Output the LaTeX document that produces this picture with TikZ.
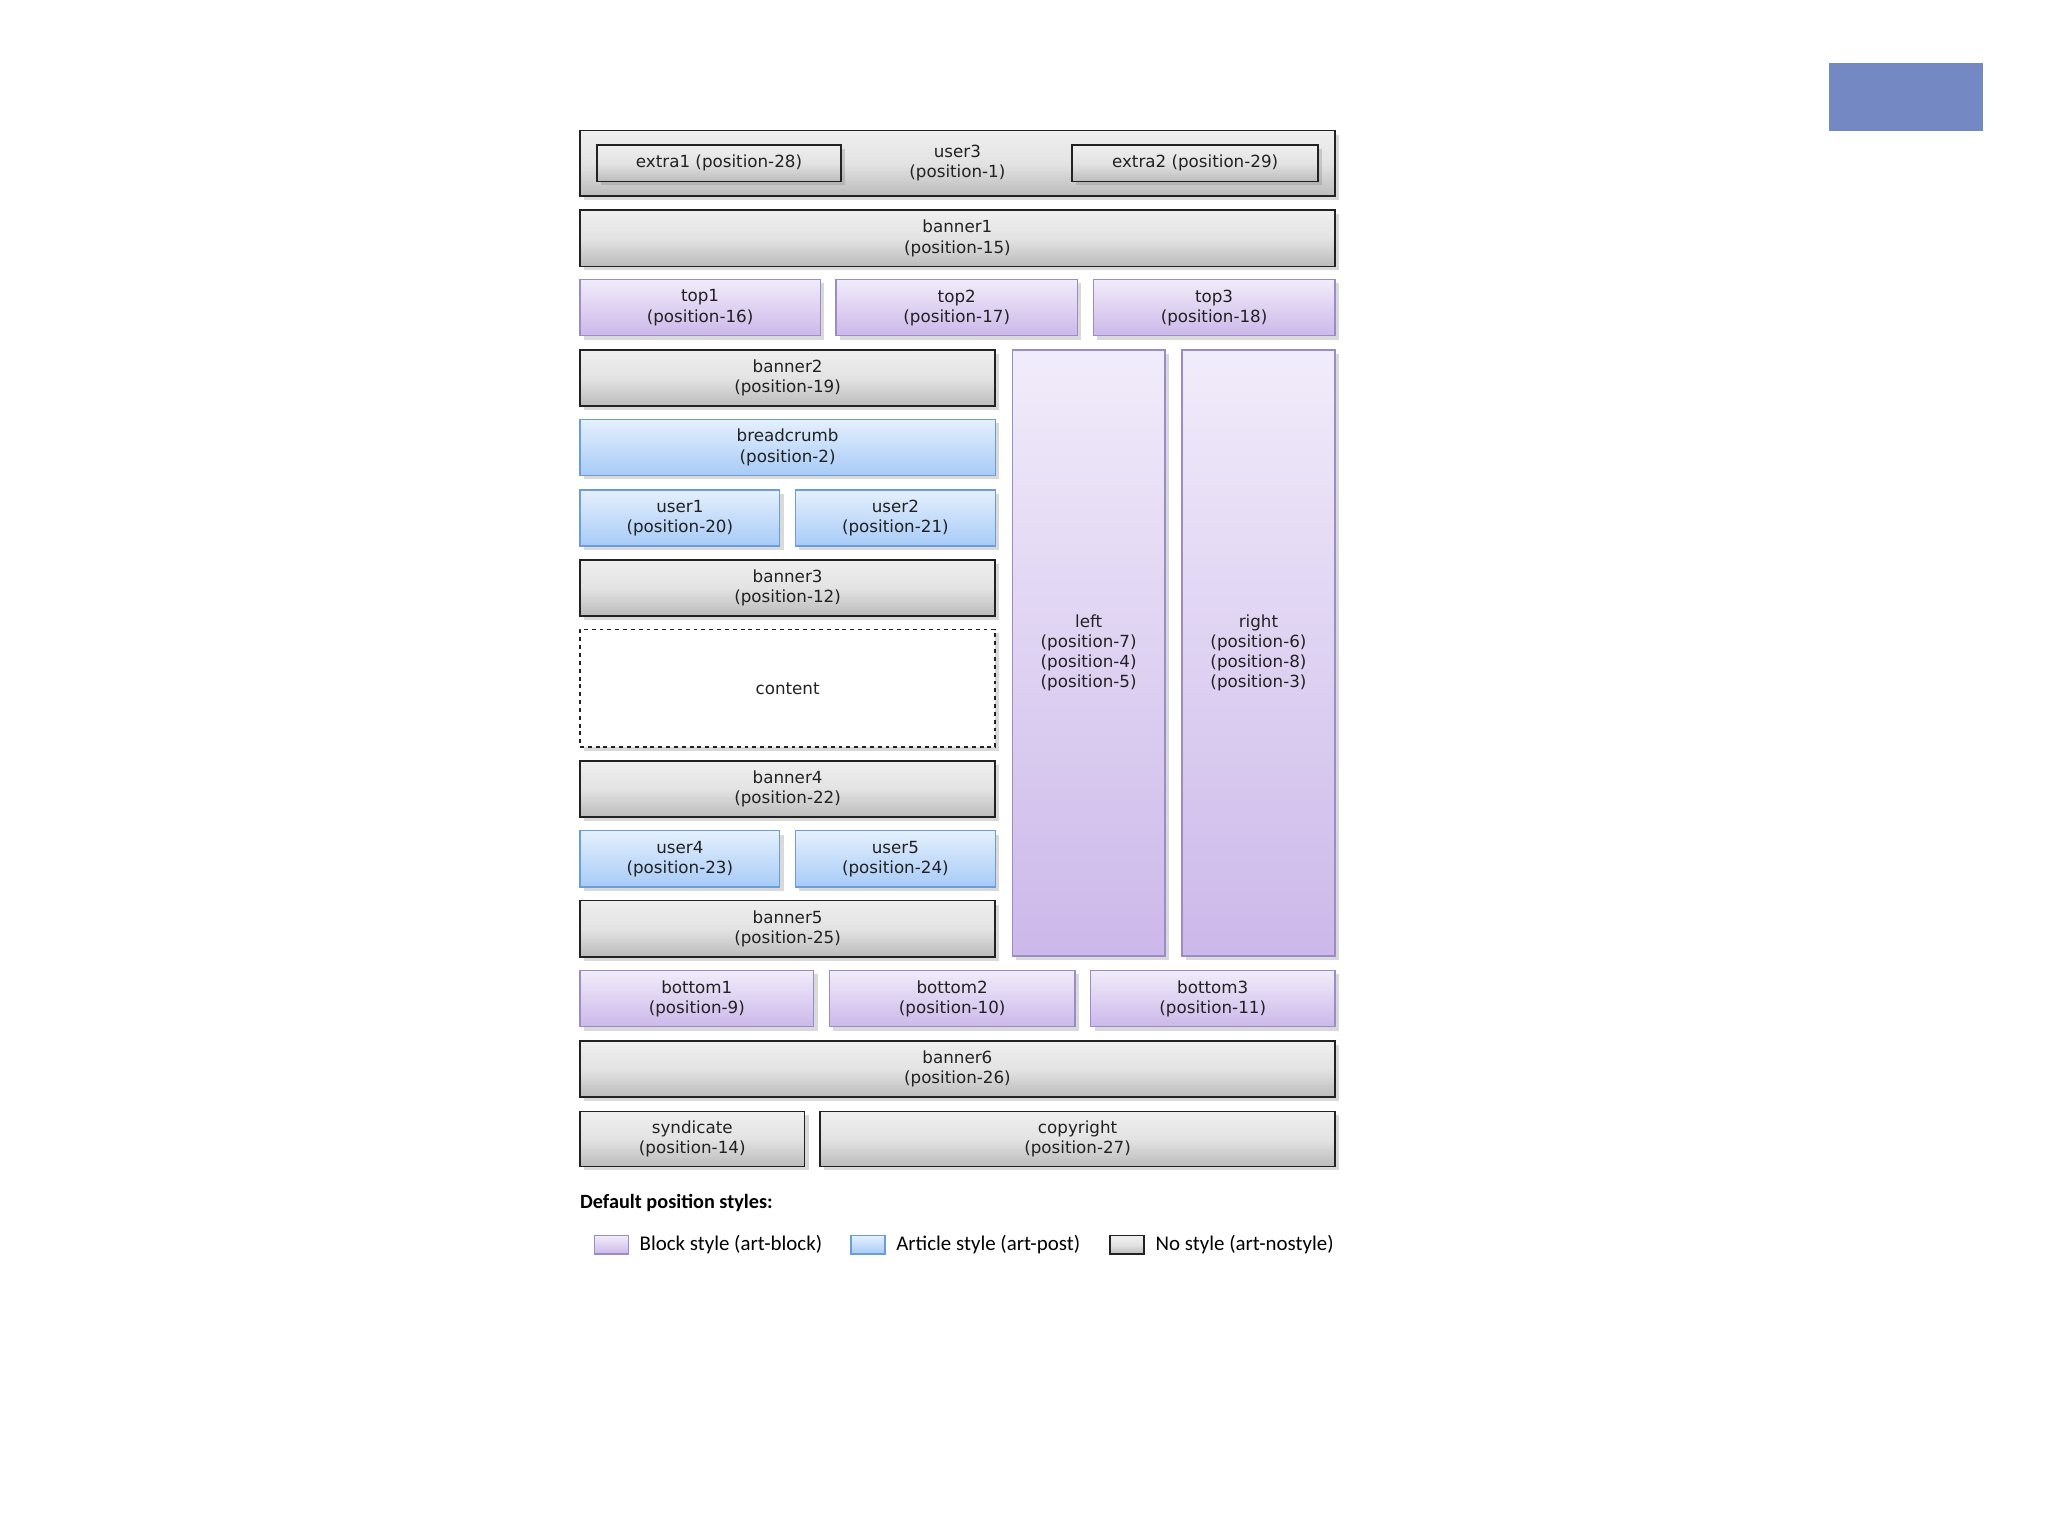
\documentclass[tikz,border=0pt]{standalone}
\usepackage{fontspec}
\setmainfont{DejaVu Sans}
\newfontfamily\legendfont{Carlito}
\usepackage{xcolor}
\usetikzlibrary{positioning,shadows}

\definecolor{txt}{HTML}{222222}
\definecolor{nsLine}{HTML}{222222}
\definecolor{nsTop}{HTML}{EFEFEF}
\definecolor{nsMid}{HTML}{E3E3E3}
\definecolor{nsBot}{HTML}{BBBBBB}
\definecolor{blkLine}{HTML}{9A8CC6}
\definecolor{blkTop}{HTML}{F1ECFA}
\definecolor{blkBot}{HTML}{CCB8EA}
\definecolor{pstLine}{HTML}{6C9CDA}
\definecolor{pstTop}{HTML}{E5F0FD}
\definecolor{pstBot}{HTML}{A7CBF7}
\definecolor{accent}{HTML}{7489C4}

\begin{document}
\begin{tikzpicture}[x=1pt, y=-1pt,
  font=\fontsize{12.8}{15.4}\selectfont,
  box/.style={align=center, inner sep=2pt, text=txt,
              drop shadow={shadow xshift=3pt, shadow yshift=-3pt,
                           opacity=0.3}},
  nsfill/.style={draw=nsLine, line width=1.3pt, top color=nsTop,
                 bottom color=nsBot, middle color=nsMid},
  blkfill/.style={draw=blkLine, line width=1.1pt, top color=blkTop,
                  bottom color=blkBot},
  pstfill/.style={draw=pstLine, line width=1.1pt, top color=pstTop,
                  bottom color=pstBot},
  swatch/.style={minimum width=26pt, minimum height=14pt, inner sep=0pt},
  legend/.style={inner sep=0pt, text=black, anchor=west,
                 font=\legendfont\fontsize{16}{19}\selectfont}]
  \useasboundingbox (0,0) rectangle (1568,1176);

  % header strip
  \node[box, nsfill, minimum width=578pt, minimum height=50pt] (user3)
       at (733,125) {user3\\(position-1)};
  \node[box, nsfill, minimum width=187pt, minimum height=28pt] (extra1)
       at (550.5,125) {extra1 (position-28)};
  \node[box, nsfill, minimum width=188pt, minimum height=28pt] (extra2)
       at (915,125) {extra2 (position-29)};
  \node[box, nsfill, minimum width=578pt, minimum height=43pt] (banner1)
       at (733,182.5) {banner1\\(position-15)};
  \node[box, blkfill, minimum width=184pt, minimum height=43pt] (top1)
       at (536,235.5) {top1\\(position-16)};
  \node[box, blkfill, minimum width=185pt, minimum height=43pt] (top2)
       at (732.5,235.5) {top2\\(position-17)};
  \node[box, blkfill, minimum width=185pt, minimum height=43pt] (top3)
       at (929.5,235.5) {top3\\(position-18)};

  % main column
  \node[box, nsfill, minimum width=318pt, minimum height=43pt] (banner2)
       at (603,289.5) {banner2\\(position-19)};
  \node[box, pstfill, minimum width=318pt, minimum height=43pt] (breadcrumb)
       at (603,342.5) {breadcrumb\\(position-2)};
  \node[box, pstfill, minimum width=153pt, minimum height=43pt] (user1)
       at (520.5,396.5) {user1\\(position-20)};
  \node[box, pstfill, minimum width=153pt, minimum height=43pt] (user2)
       at (685.5,396.5) {user2\\(position-21)};
  \node[box, nsfill, minimum width=318pt, minimum height=43pt] (banner3)
       at (603,450) {banner3\\(position-12)};
  \node[box, draw=nsLine, line width=1.2pt, dashed, fill=white,
        minimum width=318pt, minimum height=90pt] (content)
       at (603,527) {content};
  \node[box, nsfill, minimum width=318pt, minimum height=43pt] (banner4)
       at (603,604) {banner4\\(position-22)};
  \node[box, pstfill, minimum width=153pt, minimum height=43pt] (user4)
       at (520.5,657.5) {user4\\(position-23)};
  \node[box, pstfill, minimum width=153pt, minimum height=43pt] (user5)
       at (685.5,657.5) {user5\\(position-24)};
  \node[box, nsfill, minimum width=318pt, minimum height=43pt] (banner5)
       at (603,711) {banner5\\(position-25)};

  % side columns
  \node[box, blkfill, minimum width=117pt, minimum height=464pt] (left)
       at (833.5,500) {left\\(position-7)\\(position-4)\\(position-5)};
  \node[box, blkfill, minimum width=117pt, minimum height=464pt] (right)
       at (963.5,500) {right\\(position-6)\\(position-8)\\(position-3)};

  % footer
  \node[box, blkfill, minimum width=179pt, minimum height=43pt] (bottom1)
       at (533.5,764.5) {bottom1\\(position-9)};
  \node[box, blkfill, minimum width=188pt, minimum height=43pt] (bottom2)
       at (729,764.5) {bottom2\\(position-10)};
  \node[box, blkfill, minimum width=187pt, minimum height=43pt] (bottom3)
       at (928.5,764.5) {bottom3\\(position-11)};
  \node[box, nsfill, minimum width=578pt, minimum height=43pt] (banner6)
       at (733,818.5) {banner6\\(position-26)};
  \node[box, nsfill, minimum width=172pt, minimum height=42pt] (syndicate)
       at (530,872) {syndicate\\(position-14)};
  \node[box, nsfill, minimum width=394pt, minimum height=42pt] (copyright)
       at (825,872) {copyright\\(position-27)};

  % legend
  \node[legend, font=\legendfont\bfseries\fontsize{15.5}{19}\selectfont]
       (heading) at (444,921) {Default position styles:};
  \node[swatch, blkfill] (swblock) at (468,953) {};
  \node[legend, right=8pt of swblock] (lgblock) {Block style (art-block)};
  \node[swatch, pstfill] (swpost) at (664.5,953) {};
  \node[legend, right=8pt of swpost] (lgpost) {Article style (art-post)};
  \node[swatch, nsfill] (swnone) at (863,953) {};
  \node[legend, right=8pt of swnone] (lgnone) {No style (art-nostyle)};

  \node[fill=accent, minimum width=118pt, minimum height=52pt,
        inner sep=0pt] (accent) at (1459,74) {};
\end{tikzpicture}
\end{document}
